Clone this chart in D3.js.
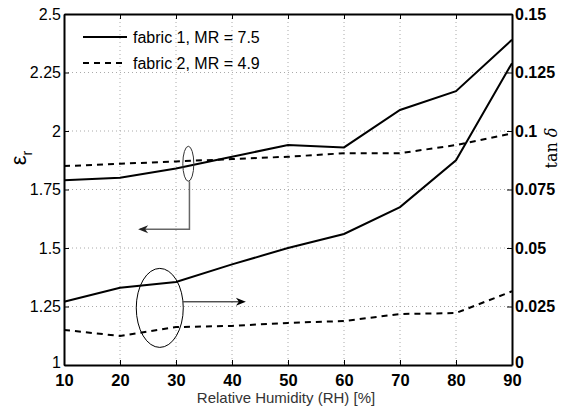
<!DOCTYPE html>
<html>
<head>
<meta charset="utf-8">
<script src="https://cdn.jsdelivr.net/npm/d3@7"></script>
<style>
  body { margin: 0; background: #fff; }
  text { font-family: "Liberation Sans", Arial, Helvetica, sans-serif; }
</style>
</head>
<body>
<div id="chart"></div>
<script>
// data
let humidity = [10, 20, 30, 40, 50, 60, 70, 80, 90];
let epsFabric1 = [1.79, 1.80, 1.84, 1.89, 1.94, 1.93, 2.09, 2.17, 2.39];
let epsFabric2 = [1.85, 1.86, 1.87, 1.88, 1.89, 1.905, 1.905, 1.94, 1.99];
let tanFabric1 = [0.027, 0.033, 0.0355, 0.043, 0.050, 0.056, 0.0675, 0.0875, 0.129];
let tanFabric2 = [0.015, 0.0124, 0.0162, 0.0167, 0.018, 0.0188, 0.0218, 0.0222, 0.0315];
let xTicks = [10, 20, 30, 40, 50, 60, 70, 80, 90];
let epsTicks = [1, 1.25, 1.5, 1.75, 2, 2.25, 2.5];
let tanTicks = [0, 0.025, 0.05, 0.075, 0.1, 0.125, 0.15];
let legendLabels = ["fabric 1, MR = 7.5", "fabric 2, MR = 4.9"];

let width = 569, height = 410;
let plotLeft = 64, plotRight = 512, plotTop = 14, plotBottom = 365;

let svg = d3.select("#chart").append("svg")
  .attr("width", width)
  .attr("height", height);

let xScale = d3.scaleLinear().domain([10, 90]).range([plotLeft, plotRight]);
let yEps = d3.scaleLinear().domain([1, 2.5]).range([plotBottom, plotTop]);
let yTan = d3.scaleLinear().domain([0, 0.15]).range([plotBottom, plotTop]);

// dotted grid
let grid = svg.append("g").attr("class", "grid");
grid.selectAll("line.gx")
  .data(xTicks.slice(1, -1))
  .enter().append("line")
  .attr("x1", d => xScale(d)).attr("x2", d => xScale(d))
  .attr("y1", plotTop).attr("y2", plotBottom);
grid.selectAll("line.gy")
  .data(epsTicks.slice(1, -1))
  .enter().append("line")
  .attr("x1", plotLeft).attr("x2", plotRight)
  .attr("y1", d => yEps(d)).attr("y2", d => yEps(d));
grid.selectAll("line")
  .attr("stroke", "#aaa")
  .attr("stroke-width", 1)
  .attr("stroke-dasharray", "1,3");

// axes, ticks pointing inward
let xAxis = d3.axisBottom(xScale).tickValues(xTicks).tickSizeInner(-5).tickSizeOuter(0).tickPadding(9);
let xTop = d3.axisTop(xScale).tickValues(xTicks).tickSizeInner(-5).tickSizeOuter(0).tickFormat("");
let yAxisL = d3.axisLeft(yEps).tickValues(epsTicks).tickSizeInner(-5).tickSizeOuter(0).tickPadding(3)
  .tickFormat(d3.format("~g"));
let yAxisR = d3.axisRight(yTan).tickValues(tanTicks).tickSizeInner(-5).tickSizeOuter(0).tickPadding(3)
  .tickFormat(d3.format("~g"));

let gx = svg.append("g").attr("transform", "translate(0," + plotBottom + ")").call(xAxis);
svg.append("g").attr("transform", "translate(0," + plotTop + ")").call(xTop);
let gl = svg.append("g").attr("transform", "translate(" + plotLeft + ",0)").call(yAxisL);
let gr = svg.append("g").attr("transform", "translate(" + plotRight + ",0)").call(yAxisR);

svg.selectAll(".domain").attr("stroke", "#000").attr("stroke-width", 2);
svg.selectAll(".tick line").attr("stroke", "#000");
svg.selectAll(".tick text").attr("fill", "#000").attr("font-size", 16)
  .style("font-family", "'Liberation Sans', Arial, sans-serif");
gx.selectAll(".tick text").attr("font-weight", "bold").attr("font-size", 16.5);
gr.selectAll(".tick text").attr("font-weight", "600");

// lift the lowest y labels a little so they clear the x labels
gl.selectAll(".tick text").filter(d => d === 1).attr("y", -3);
gr.selectAll(".tick text").filter(d => d === 0).attr("y", -3);

// series lines
let line = (scale) => d3.line()
  .x((d, i) => xScale(humidity[i]))
  .y(d => scale(d));

let series = [
  { values: epsFabric1, scale: yEps, dash: null },
  { values: epsFabric2, scale: yEps, dash: "6,5" },
  { values: tanFabric1, scale: yTan, dash: null },
  { values: tanFabric2, scale: yTan, dash: "6,5" }
];
series.forEach(function(s) {
  svg.append("path")
    .datum(s.values)
    .attr("d", line(s.scale))
    .attr("fill", "none")
    .attr("stroke", "#000")
    .attr("stroke-width", 2)
    .attr("stroke-dasharray", s.dash);
});

// legend
let legend = svg.append("g").attr("transform", "translate(83,37)");
legendLabels.forEach(function(lbl, i) {
  legend.append("line")
    .attr("x1", 0).attr("x2", 44)
    .attr("y1", i * 26).attr("y2", i * 26)
    .attr("stroke", "#000").attr("stroke-width", 2)
    .attr("stroke-dasharray", i === 0 ? null : "6,5");
  legend.append("text")
    .attr("x", 50).attr("y", i * 26 + 6)
    .attr("font-size", 16)
    .text(lbl);
});

// annotation: ellipse pointing to left axis
let ann = svg.append("g");
ann.append("ellipse")
  .attr("cx", xScale(32.2)).attr("cy", yEps(1.86))
  .attr("rx", 5.5).attr("ry", 17.5)
  .attr("fill", "none").attr("stroke", "#333").attr("stroke-width", 1);
ann.append("path")
  .attr("d", "M" + xScale(32.4) + "," + (yEps(1.86) + 17.5) +
    "V" + yEps(1.58) + "H" + xScale(23.6))
  .attr("fill", "none").attr("stroke", "#666").attr("stroke-width", 1.5);
ann.append("path")
  .attr("d", "M" + (xScale(23.6) - 2) + "," + yEps(1.58) + "l10,-4l-3,4l3,4z")
  .attr("fill", "#222");

// annotation: ellipse pointing to right axis
ann.append("ellipse")
  .attr("cx", xScale(27.1)).attr("cy", yTan(0.0244))
  .attr("rx", 23.5).attr("ry", 39.5)
  .attr("fill", "none").attr("stroke", "#000").attr("stroke-width", 1);
ann.append("line")
  .attr("x1", xScale(31.3)).attr("x2", xScale(41.5))
  .attr("y1", yTan(0.027)).attr("y2", yTan(0.027))
  .attr("stroke", "#000").attr("stroke-width", 1);
ann.append("path")
  .attr("d", "M" + (xScale(42.3) + 1) + "," + yTan(0.027) + "l-10,-4l3,4l-3,4z")
  .attr("fill", "#000");

// axis titles
svg.append("text")
  .attr("transform", "translate(26,158) rotate(-90)")
  .attr("text-anchor", "middle")
  .attr("font-size", 22)
  .html("ε<tspan font-size='14' dy='6'>r</tspan>");
svg.append("text")
  .attr("transform", "translate(557,148) rotate(-90)")
  .attr("text-anchor", "middle")
  .attr("font-size", 16)
  .style("font-family", "'DejaVu Serif', 'Liberation Serif', serif")
  .html("tan <tspan font-style='italic'>δ</tspan>");
svg.append("text")
  .attr("x", (plotLeft + plotRight) / 2 - 2).attr("y", 403)
  .attr("text-anchor", "middle")
  .attr("font-size", 15)
  .attr("fill", "#333")
  .text("Relative Humidity (RH) [%]");
</script>
</body>
</html>
